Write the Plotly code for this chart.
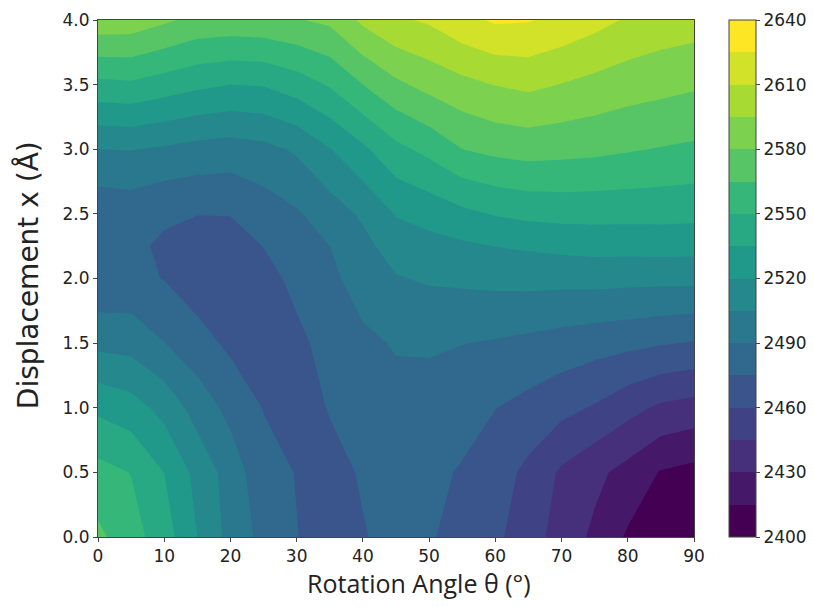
import plotly.graph_objects as go
from plotly.colors import sample_colorscale

# ---------------- data ----------------
angles = [0, 5, 10, 15, 20, 25, 30, 35, 40, 45, 50, 55, 60, 65, 70, 75, 80, 85, 90]
displacements = [0.0, 0.5, 1.0, 1.5, 2.0, 2.25, 2.5, 3.0, 3.5, 4.0]

e_y000 = [2568.5, 2556, 2542, 2520, 2500, 2485.5, 2475.4, 2468, 2474, 2480, 2476.5, 2469.7, 2463, 2451.8, 2438.7, 2427, 2413, 2405, 2402]
e_y050 = [2555, 2549.6, 2535, 2515.5, 2498.5, 2480, 2474.5, 2470, 2476.5, 2482, 2479, 2473.5, 2467, 2456.3, 2442.7, 2433.7, 2425, 2414, 2410.5]
e_y100 = [2532, 2526.4, 2515.2, 2498.9, 2485.6, 2474.5, 2467, 2476, 2480, 2486, 2484, 2481.6, 2475.3, 2470.5, 2464.4, 2458.6, 2450, 2442.4, 2439]
e_y150 = [2501, 2499.4, 2490.4, 2480.9, 2472, 2467, 2471, 2481, 2487.4, 2491, 2491.8, 2490.3, 2488.7, 2486.3, 2483.8, 2481, 2478.9, 2476.1, 2474]
e_y200 = [2478, 2479, 2474.5, 2467, 2466, 2469, 2479.5, 2487.2, 2495.4, 2504, 2506.7, 2507.8, 2509, 2509.7, 2509.4, 2510, 2509.4, 2509, 2509]
e_y225 = [2477, 2477, 2473.5, 2469, 2469, 2475.3, 2484, 2490, 2500.7, 2511.8, 2515, 2517.6, 2520.3, 2521.9, 2523.9, 2525, 2525, 2525.4, 2525.2]
e_y250 = [2479, 2481, 2476.5, 2475.3, 2475.5, 2482, 2488.3, 2497.5, 2507.3, 2521, 2525.4, 2531.4, 2536, 2538.9, 2540, 2540, 2539.8, 2539.7, 2539]
e_y300 = [2505, 2505.5, 2503, 2499.8, 2498.1, 2500.7, 2507, 2519.4, 2532.2, 2546, 2554.2, 2565, 2569, 2570.9, 2569.8, 2568.5, 2566.3, 2564.2, 2562.4]
e_y350 = [2546, 2547.5, 2542.9, 2538.2, 2535, 2536, 2542.5, 2551.4, 2565, 2577, 2584.7, 2590.6, 2595.5, 2598.2, 2594.5, 2590.6, 2586.9, 2584.5, 2582]
e_y400 = [2590, 2589, 2582.5, 2576, 2575, 2576, 2579, 2583, 2598, 2608, 2612, 2621, 2627, 2626, 2621, 2615, 2608.4, 2604, 2602]

energy = [e_y000, e_y050, e_y100, e_y150, e_y200, e_y225, e_y250, e_y300, e_y350, e_y400]

level_min, level_max, level_step = 2400, 2640, 15
cbar_ticks = [2400, 2430, 2460, 2490, 2520, 2550, 2580, 2610, 2640]
x_ticks = [0, 10, 20, 30, 40, 50, 60, 70, 80, 90]
y_ticks = [0.0, 0.5, 1.0, 1.5, 2.0, 2.5, 3.0, 3.5, 4.0]

x_title = "Rotation Angle θ (°)"
y_title = "Displacement x (Å)"

# ---------------- colours ----------------
n_bands = int((level_max - level_min) / level_step)  # 16
band_colors = sample_colorscale("Viridis", [i / (n_bands - 1) for i in range(n_bands)])
contour_scale = [[i / (n_bands - 1), band_colors[i]] for i in range(n_bands)]
stepped_scale = []
for i, c in enumerate(band_colors):
    stepped_scale.append([i / n_bands, c])
    stepped_scale.append([(i + 1) / n_bands, c])

TICK_FONT = dict(family="DejaVu Sans", size=17, color="#222")

fig = go.Figure()
fig.add_trace(go.Contour(
    x=angles, y=displacements, z=energy,
    colorscale=contour_scale,
    contours=dict(start=level_min + level_step, end=level_max - level_step,
                  size=level_step, coloring="fill", showlines=False),
    line=dict(width=0, smoothing=0),
    showscale=False,
))
# colour bar (discrete bands 2400..2640)
fig.add_trace(go.Scatter(
    x=[None], y=[None], mode="markers", showlegend=False,
    marker=dict(color=[level_min], cmin=level_min, cmax=level_max,
                colorscale=stepped_scale, showscale=True,
                colorbar=dict(
                    x=1.0587, xanchor="left", y=0.5, yanchor="middle",
                    len=1, lenmode="fraction", thickness=27, thicknessmode="pixels",
                    xpad=0, ypad=0, outlinewidth=1, outlinecolor="#444",
                    tickvals=cbar_ticks, ticks="outside", ticklen=4,
                    tickcolor="#444", tickfont=TICK_FONT,
                )),
))

fig.update_layout(
    width=813, height=607,
    margin=dict(l=98, r=119, t=20, b=70, autoexpand=False),
    paper_bgcolor="white", plot_bgcolor="white",
    showlegend=False,
    annotations=[
        dict(text=x_title, xref="paper", yref="paper", x=0.5386, y=-0.089,
             xanchor="center", yanchor="middle", showarrow=False,
             font=dict(family="Open Sans", size=25, color="#222")),
        dict(text=y_title, xref="paper", yref="paper", x=-0.117, y=0.507,
             xanchor="center", yanchor="middle", showarrow=False, textangle=-90,
             font=dict(family="DejaVu Sans", size=28, color="#222")),
    ],
)
fig.update_xaxes(
    range=[0, 90], tickvals=x_ticks, ticks="outside", ticklen=4, tickcolor="#444",
    showgrid=False, zeroline=False, showline=True, mirror=True,
    linecolor="#444", linewidth=1, tickfont=TICK_FONT,
)
fig.update_yaxes(
    range=[0, 4], tickvals=y_ticks, tickformat=".1f", ticks="outside", ticklen=4,
    tickcolor="#444", showgrid=False, zeroline=False, showline=True, mirror=True,
    linecolor="#444", linewidth=1, tickfont=TICK_FONT,
)

fig.write_html("out.html")
